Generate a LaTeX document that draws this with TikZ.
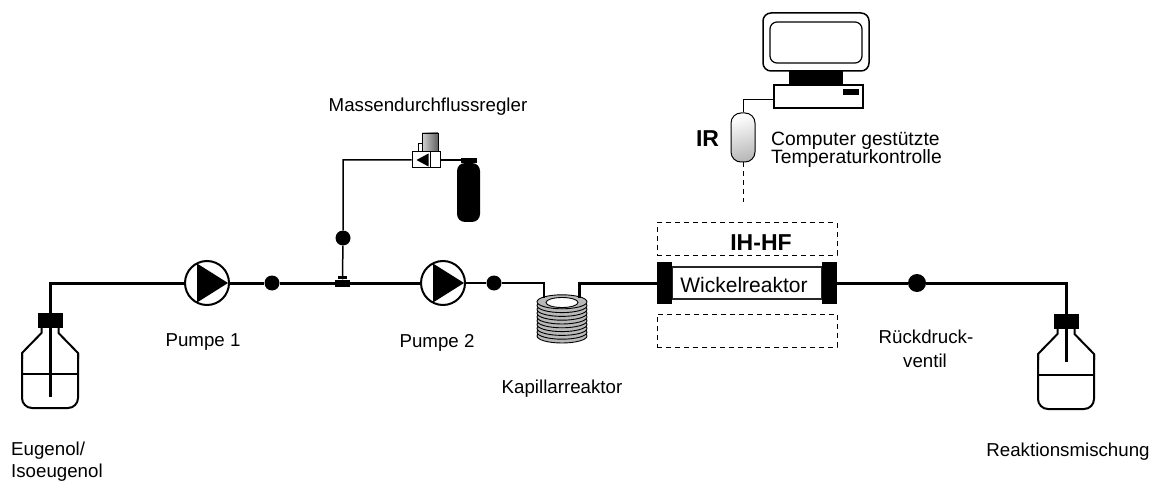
\documentclass[tikz,border=0pt]{standalone}
\usepackage{fontspec}
\setmainfont{Liberation Sans}
\usetikzlibrary{calc}
\newcommand\lblfont{\fontsize{18.7}{21}\selectfont}
\newcommand\pcfont{\fontsize{19.3}{21}\selectfont}
\newcommand\wickfont{\fontsize{21}{24}\selectfont}
\newcommand\boldlbl{\fontsize{23}{26}\selectfont\bfseries}

\begin{document}
\begin{tikzpicture}[x=1pt,y=-1pt,
  pipe/.style={line width=3pt},
  pipe2/.style={line width=2pt},
  gasline/.style={line width=1.5pt},
  cable/.style={line width=1pt},
  dot/.style={circle, fill=black, inner sep=0pt, minimum size=15pt},
  pumpsym/.style={circle, draw, line width=2pt, fill=white, minimum size=44pt, inner sep=0pt,
    path picture={\fill[black] (path picture bounding box.center) ++(-10,-19.5) -- ++(0,39) -- ++(31,-19.5) -- cycle;}},
  lbl/.style={font=\lblfont, inner sep=0pt, anchor=base},
  blk/.style={fill=black, inner sep=0pt},
  plain/.style={draw, inner sep=0pt},
  heatzone/.style={draw, dash pattern=on 5pt off 4pt, line width=1pt, inner sep=0pt, minimum width=180pt},
  bottle/.pic={
    % neck and shoulders
    \draw[line width=2pt, line join=round] (-28,46) -- (-28,40) -- (-8.5,20) -- (-8.5,15);
    \draw[line width=2pt, line join=round] (28,46) -- (28,40) -- (8.5,20) -- (8.5,15);
    % body with rounded base
    \draw[line width=2pt, rounded corners=10pt] (-28,40) -- (-28,95) -- (28,95) -- (28,40);
    % liquid level
    \draw[line width=1.3pt] (-28,61) -- (28,61);
    % screw cap
    \fill (-12.5,0) rectangle (12.5,15);
  }
]
\useasboundingbox (0,0) rectangle (1162,481);

% ---------- vessels ----------
\pic at (50,313) {bottle};
\pic at (1066,314) {bottle};
\coordinate (tubeL) at (50,397);
\coordinate (tubeR) at (1066,362);

% ---------- pumps, junctions ----------
\node[pumpsym] (pump1) at (207,283) {};
\node[pumpsym] (pump2) at (443,283) {};
\node[dot] (d1) at (272,283) {};
\node[dot] (d2) at (494,283) {};
\node[dot, minimum size=18pt] (d3) at (917,283) {};
\node[dot] (d4) at (343,238) {};
\node[blk, minimum width=15pt, minimum height=7pt] (junc) at (342.5,283) {};
\fill ($(junc.north)+(-4.5,0)$) rectangle ++(9,-3.5);

% ---------- mass flow controller and gas cylinder ----------
\node[plain, line width=1pt, fill=white, minimum width=28pt, minimum height=16pt] (mfc) at (426,160) {};
\draw[line width=1pt] (430,152) -- (430,168);
\fill (416.5,160) -- (428.5,153.5) -- (428.5,166.5) -- cycle;
\node[plain, line width=0.8pt, left color=gray!35, middle color=white, right color=gray!75!black,
      minimum width=16pt, minimum height=18pt] (mfchead) at (430,142) {};
\node[plain, line width=0.8pt, fill=white, minimum width=4pt, minimum height=8pt] (mfcstub) at (420,147) {};
\node[blk, rounded corners=8pt, minimum width=23pt, minimum height=59pt] (cyl) at (468.5,192.5) {};
\node[blk, minimum width=16pt, minimum height=5pt] (cylcap) at (469,160.5) {};

% ---------- capillary coil ----------
\foreach \i in {0,...,9}
  \filldraw[fill=gray!55, line width=0.9pt] (562,{336-3.8*\i}) ellipse [x radius=25, y radius=7];
\filldraw[fill=white, line width=0.9pt] (562,302.5) ellipse [x radius=16, y radius=5];
\coordinate (coilin) at (544,298);
\coordinate (coilout) at (579,298);

% ---------- coil reactor with induction heating ----------
\node[heatzone, minimum height=32pt] (hzTop) at (747,239) {};
\node[heatzone, minimum height=33pt] (hzBot) at (747,330.5) {};
\node[plain, line width=1.5pt, draw=black!85, minimum width=150pt, minimum height=32pt] (wick) at (747,283) {};
\node[blk, minimum width=15pt, minimum height=42pt] (wickL) at (664.5,283) {};
\node[blk, minimum width=15pt, minimum height=42pt] (wickR) at (829.5,283) {};

% ---------- computer and IR sensor ----------
\node[plain, line width=1.5pt, rounded corners=8pt, minimum width=106pt, minimum height=58pt] (mon) at (816,42) {};
\node[plain, line width=1.2pt, rounded corners=7pt, minimum width=92pt, minimum height=41pt] (scr) at (816,42.5) {};
\node[blk, minimum width=54pt, minimum height=14pt] (stand) at (816,78) {};
\node[plain, fill=white, line width=1.5pt, minimum width=89pt, minimum height=23pt] (pcbase) at (818.5,96.5) {};
\node[blk, minimum width=16pt, minimum height=6pt] (slot) at (851,92) {};
\node[plain, line width=1pt, rounded corners=10pt, minimum width=24pt, minimum height=49pt,
      top color=white, bottom color=gray!55, shading angle=15] (ir) at (743,137.5) {};
\coordinate (irend) at (743,202);

% ---------- piping ----------
\draw[pipe] (tubeL) |- (pump1.west);
\draw[pipe] (pump1.east) -- (d1) -- (junc) -- (pump2.west);
\draw[pipe2] (pump2.east) -- (d2) -| (coilin);
\draw[pipe] (coilout) |- (wickL.west);
\draw[pipe] (wickR.east) -- (d3) -| (tubeR);
\draw[gasline] (junc.north) -- (d4) |- (mfc.west);
\draw[gasline] (mfc.east) -- (cylcap.west |- mfc.east);
\draw[cable] ([yshift=-3.5pt]pcbase.west) -| (ir.north);
\draw[cable, dash pattern=on 5pt off 4pt] (ir.south) -- (irend);

% ---------- labels ----------
\node[lbl, anchor=base west] (lEug1) at (11,455) {Eugenol/};
\node[lbl, anchor=base west] (lEug2) at (11,477) {Isoeugenol};
\node[lbl] (lP1) at (203,346) {Pumpe 1};
\node[lbl] (lP2) at (437,347) {Pumpe 2};
\node[lbl] (lKap) at (562,393) {Kapillarreaktor};
\node[lbl] (lMfc) at (428,112) {Massendurchflussregler};
\node[lbl] (lR1) at (926,343) {Rückdruck-};
\node[lbl] (lR2) at (925,367) {ventil};
\node[lbl] (lMix) at (1068,456) {Reaktionsmischung};
\node[lbl, font=\pcfont, anchor=base west] (lPc1) at (771,146) {Computer gestützte};
\node[lbl, font=\pcfont, anchor=base west] (lPc2) at (771,164) {Temperaturkontrolle};
\node[lbl, font=\boldlbl] (lIR) at (707.5,147) {IR};
\node[lbl, font=\boldlbl] (lIH) at (761,251) {IH-HF};
\node[lbl, font=\wickfont] (lWick) at (744,292) {Wickelreaktor};
\end{tikzpicture}
\end{document}
